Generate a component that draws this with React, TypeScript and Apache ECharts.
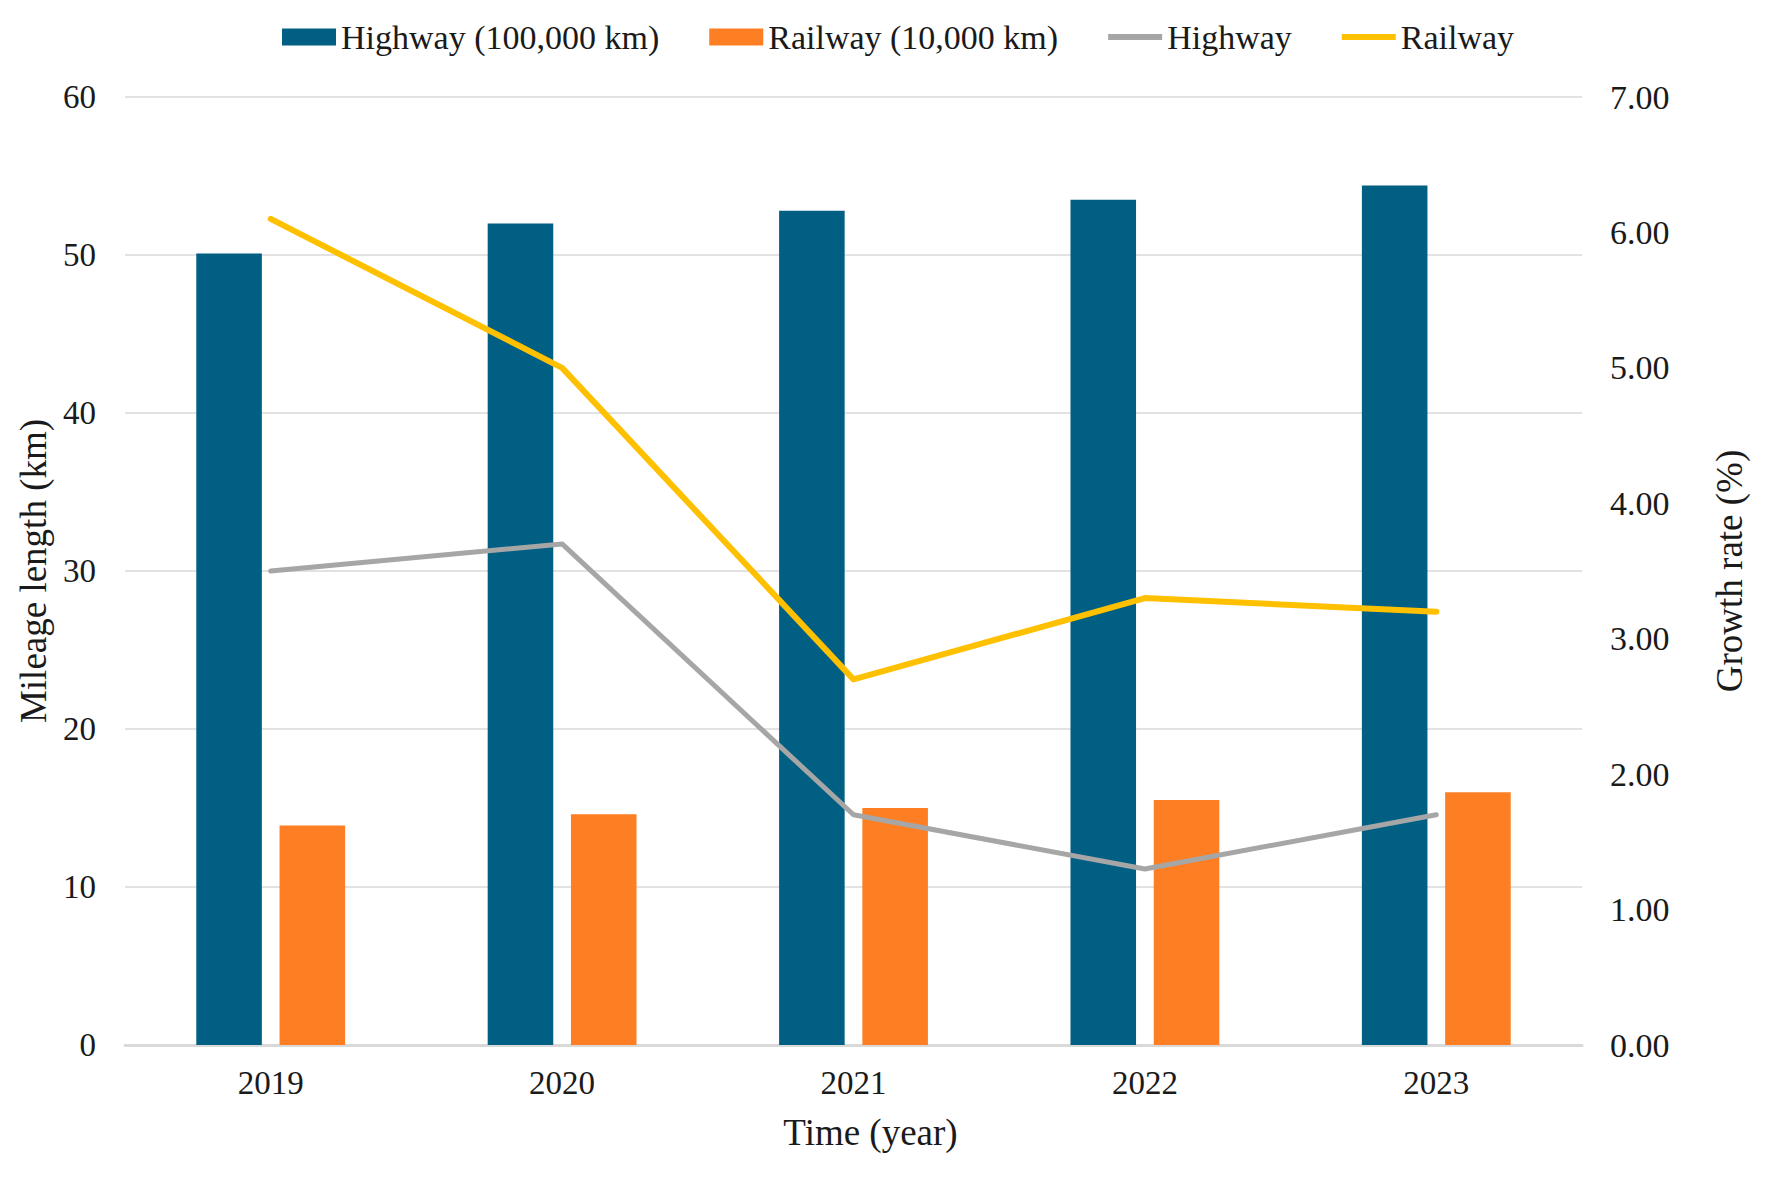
import { useEffect, useRef } from "react"
import * as echarts from "echarts"

const years = ["2019", "2020", "2021", "2022", "2023"]
const highwayMileage = [50.1, 52.0, 52.8, 53.5, 54.4]
const railwayMileage = [13.9, 14.6, 15.0, 15.5, 16.0]
const highwayGrowth = [3.5, 3.7, 1.7, 1.3, 1.7]
const railwayGrowth = [6.1, 5.0, 2.7, 3.3, 3.2]

const FONT = "'Liberation Serif', 'Times New Roman', serif"
const TEXT = "#1a1a1a"
// thin bar used as legend icon for the two line series
const LINE_ICON = "path://M0,0 L54,0 L54,6 L0,6 Z"

export default function App() {
  const chartRef = useRef<HTMLDivElement>(null)

  useEffect(() => {
    document.body.style.margin = "0"
    if (!chartRef.current) return
    const chart = echarts.init(chartRef.current, undefined, { renderer: "svg" })

    const option: echarts.EChartsOption = {
      animation: false,
      backgroundColor: "#ffffff",
      textStyle: { fontFamily: FONT, color: TEXT },
      legend: {
        top: 15,
        left: 277,
        itemWidth: 54,
        itemHeight: 17,
        itemGap: 50,
        symbolKeepAspect: true,
        textStyle: { fontSize: 34, color: TEXT, fontFamily: FONT },
        data: [
          { name: "Highway (100,000 km)", icon: "rect" },
          { name: "Railway (10,000 km)", icon: "rect" },
          { name: "Highway", icon: LINE_ICON },
          { name: "Railway", icon: LINE_ICON },
        ],
      },
      grid: {
        left: 125,
        right: 183,
        top: 97,
        bottom: 134,
      },
      xAxis: {
        type: "category",
        data: years,
        axisLine: { lineStyle: { color: "#d9d9d9", width: 3 } },
        axisTick: { show: false },
        axisLabel: { fontSize: 33, color: TEXT, margin: 21, fontFamily: FONT },
        name: "Time (year)",
        nameLocation: "middle",
        nameGap: 69,
        nameTextStyle: { fontSize: 37, color: TEXT, fontFamily: FONT, padding: [0, 0, 0, 34] },
      },
      yAxis: [
        {
          type: "value",
          min: 0,
          max: 60,
          interval: 10,
          axisLine: { show: false },
          axisTick: { show: false },
          axisLabel: { fontSize: 33, color: TEXT, margin: 29, fontFamily: FONT },
          splitLine: { lineStyle: { color: "#e2e2e2", width: 2 } },
          name: "Mileage length (km)",
          nameLocation: "middle",
          nameRotate: 90,
          nameGap: 70,
          nameTextStyle: { fontSize: 37, color: TEXT, fontFamily: FONT },
        },
        {
          type: "value",
          min: 0,
          max: 7,
          interval: 1,
          axisLine: { show: false },
          axisTick: { show: false },
          axisLabel: {
            fontSize: 34,
            color: TEXT,
            margin: 28,
            fontFamily: FONT,
            formatter: (v: number) => v.toFixed(2),
          },
          splitLine: { show: false },
          name: "Growth rate (%)",
          nameLocation: "middle",
          nameRotate: 90,
          nameGap: 129,
          nameTextStyle: { fontSize: 37, color: TEXT, fontFamily: FONT },
        },
      ],
      series: [
        {
          name: "Highway (100,000 km)",
          type: "bar",
          yAxisIndex: 0,
          data: highwayMileage,
          barWidth: "22.5%",
          barGap: "27%",
          itemStyle: { color: "#005f83" },
        },
        {
          name: "Railway (10,000 km)",
          type: "bar",
          yAxisIndex: 0,
          data: railwayMileage,
          barWidth: "22.5%",
          barGap: "27%",
          itemStyle: { color: "#fd7e23" },
        },
        {
          name: "Highway",
          type: "line",
          yAxisIndex: 1,
          data: highwayGrowth,
          symbol: "none",
          itemStyle: { color: "#a6a6a6" },
          lineStyle: { color: "#a6a6a6", width: 5, cap: "round", join: "round" },
        },
        {
          name: "Railway",
          type: "line",
          yAxisIndex: 1,
          data: railwayGrowth,
          symbol: "none",
          itemStyle: { color: "#ffc000" },
          lineStyle: { color: "#ffc000", width: 6, cap: "round", join: "round" },
        },
      ],
    }

    chart.setOption(option)

    return () => {
      chart.dispose()
    }
  }, [])

  return <div ref={chartRef} style={{ width: "1765px", height: "1179px" }} />
}
